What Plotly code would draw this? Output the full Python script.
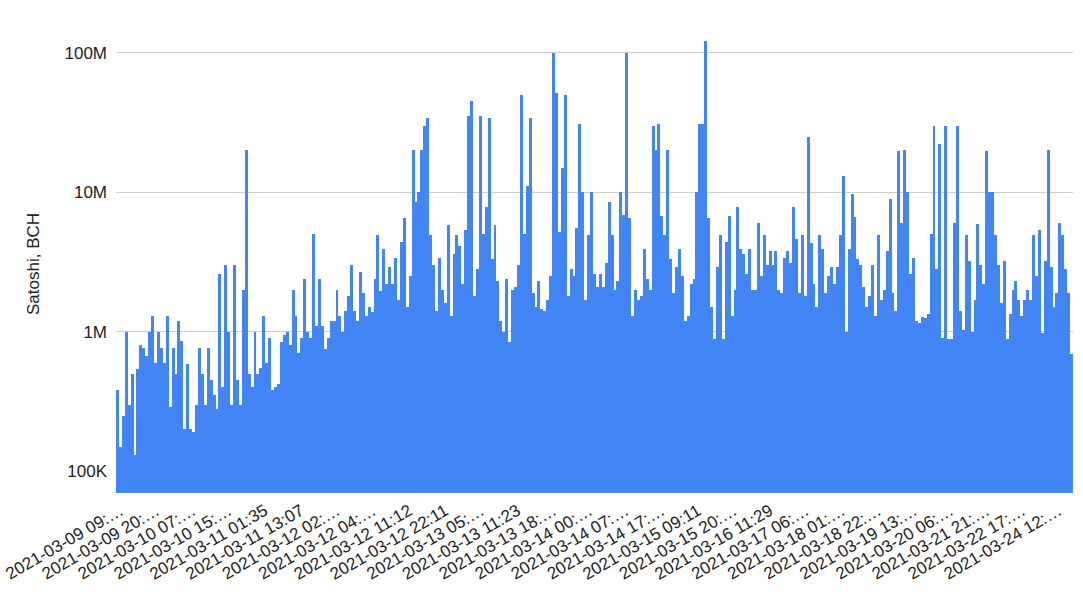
import plotly.graph_objects as go

# BCH amounts per transaction (millions of satoshi), read left to right off the chart
seg_mar09 = [0.38, 0.15, 0.25, 1.0, 0.3, 0.5, 0.13, 0.54, 0.8, 0.76,
             0.67, 1.0, 1.3, 0.6, 1.0, 0.76, 0.6, 1.3, 0.29, 0.76,
             0.5, 1.2, 0.86, 0.2, 0.59, 0.2, 0.19, 0.3, 0.76, 0.5,
             0.3, 0.76, 0.45, 0.35, 0.28, 2.6, 0.4, 3.0, 1.0, 0.3]
seg_mar10 = [3.0, 0.45, 0.3, 2.0, 20, 0.5, 0.4, 1.0, 0.5, 0.55,
             1.3, 0.6, 0.9, 0.38, 0.4, 0.42, 0.85, 0.95, 1.0, 0.8,
             2.0, 1.3, 0.7, 0.9, 2.4, 1.0, 0.9, 5.0, 1.1, 2.4,
             1.1, 0.75, 0.9, 1.2, 1.2, 2.0, 1.3, 1.0, 1.4, 1.8,
             3.0, 1.4]
seg_mar12 = [1.2, 2.7, 1.9, 1.3, 1.5, 1.38, 2.4, 4.9, 1.95, 3.9,
             2.2, 2.9, 2.2, 3.4, 1.7, 4.4, 6.5, 1.5, 2.5, 20,
             8.5, 10, 20, 30, 34, 4.9, 3.0, 1.4, 3.4, 2.0,
             1.6, 5.8, 1.3, 3.6, 4.9, 4.1, 2.2, 5.4, 35, 45,
             1.8]
seg_mar13 = [2.8, 35, 5.0, 7.8, 34, 3.3, 5.8, 2.3, 1.2, 1.0,
             2.4, 0.85, 2.0, 2.1, 3.0, 50, 5.0, 11, 34, 1.9,
             1.5, 2.3, 1.45, 1.4, 1.7, 2.5, 100, 51, 5.2, 15,
             50, 1.8, 2.8, 2.5, 5.5, 31, 10, 1.7, 4.9, 10]
seg_mar14 = [2.6, 2.1, 2.6, 2.1, 3.1, 8.5, 4.9, 2.0, 2.3, 10,
             6.9, 100, 6.5, 1.3, 2.0, 1.7, 1.8, 3.9, 2.4, 2.0,
             30, 20, 31, 6.8, 4.9, 20, 3.3, 1.9, 2.9, 3.9,
             2.5, 1.2, 1.3, 2.2, 2.4, 10, 31, 31, 121, 6.5,
             1.5]
seg_mar16 = [0.89, 2.9, 4.9, 0.89, 4.4, 6.8, 1.3, 2.0, 7.8, 3.9,
             3.6, 2.6, 3.9, 2.0, 2.0, 6.0, 2.5, 4.9, 3.0, 3.8,
             3.0, 3.8, 2.0, 1.9, 3.4, 3.8, 3.1, 7.8, 4.6, 1.9,
             4.9, 1.8, 25, 4.3, 2.2, 1.5, 4.9, 3.9, 1.9, 2.5,
             2.9]
seg_mar19 = [2.2, 2.9, 4.9, 13, 1.0, 3.9, 9.7, 6.6, 3.3, 3.0,
             2.1, 1.5, 1.8, 3.0, 1.3, 4.9, 1.7, 2.0, 3.8, 8.9,
             1.9, 1.4, 19.8, 6.0, 20, 10, 2.6, 3.4, 1.2, 1.15,
             1.28, 1.25, 1.35, 5.0, 30, 2.8, 22, 0.9, 30, 0.89,
             0.89]
seg_mar21 = [6.0, 30, 1.4, 1.03, 4.9, 3.2, 1.0, 1.7, 5.9, 3.0,
             2.2, 19.8, 10, 10, 4.9, 3.0, 1.6, 3.2, 0.89, 1.35,
             2.0, 2.3, 1.7, 1.3, 1.7, 2.0, 1.7, 4.9, 2.5, 5.4,
             0.98, 3.2, 20, 2.9, 1.5, 1.9, 6.0, 4.9, 2.8, 1.9,
             0.69]

# category labels the axis shows (roughly one per 12.33 of the bars above)
tick_labels = ["2021-03-09 09:…", "2021-03-09 20:…", "2021-03-10 07:…",
               "2021-03-10 15:…", "2021-03-11 01:35", "2021-03-11 13:07",
               "2021-03-12 02:…", "2021-03-12 04:…", "2021-03-12 11:12",
               "2021-03-12 22:11", "2021-03-13 05:…", "2021-03-13 11:23",
               "2021-03-13 18:…", "2021-03-14 00:…", "2021-03-14 07:…",
               "2021-03-14 17:…", "2021-03-15 09:11", "2021-03-15 20:…",
               "2021-03-16 11:29", "2021-03-17 06:…", "2021-03-18 01:…",
               "2021-03-18 22:…", "2021-03-19 13:…", "2021-03-20 06:…",
               "2021-03-21 21:…", "2021-03-22 17:…", "2021-03-24 12:…"]
tick_step = 12.33

y_ticks = [1e5, 1e6, 1e7, 1e8]
y_tick_text = ["100K", "1M", "10M", "100M"]

values_m = (seg_mar09 + seg_mar10 + seg_mar12 + seg_mar13 +
            seg_mar14 + seg_mar16 + seg_mar19 + seg_mar21)
satoshi = [v * 1e6 for v in values_m]
x = list(range(len(satoshi)))

fig = go.Figure()
fig.add_trace(go.Bar(x=x, y=satoshi, marker=dict(color="#4285f4", line=dict(width=0))))

font = dict(family="Liberation Sans, Arial, sans-serif", size=17, color="#222222")

fig.update_layout(
    width=1083, height=597,
    margin=dict(l=116, r=10, t=35, b=104),
    paper_bgcolor="white", plot_bgcolor="white",
    bargap=0, showlegend=False, font=font,
)
fig.update_xaxes(
    automargin=False,
    range=[-0.5, len(satoshi) - 0.5],
    tickmode="array",
    tickvals=[round(k * tick_step, 2) for k in range(len(tick_labels))],
    ticktext=tick_labels,
    tickangle=-30, tickfont=font,
    showgrid=False, showline=False, zeroline=False,
    ticklabelstandoff=4, ticklabelshift=3,
    ticklabeloverflow="allow",
)
fig.update_yaxes(
    automargin=False,
    type="log", range=[4.845, 8.126],
    tickmode="array", tickvals=y_ticks, ticktext=y_tick_text,
    tickfont=font,
    gridcolor="#cccccc", gridwidth=1,
    showline=False, zeroline=False,
    ticklabelstandoff=8,
    title=dict(text="Satoshi, BCH", font=font, standoff=20),
)

# drop the browser's default 8px body margin so the figure sits at the page corner
fig.write_html("out.html", config={"displayModeBar": False},
               post_script="document.body.style.margin = '0';")
